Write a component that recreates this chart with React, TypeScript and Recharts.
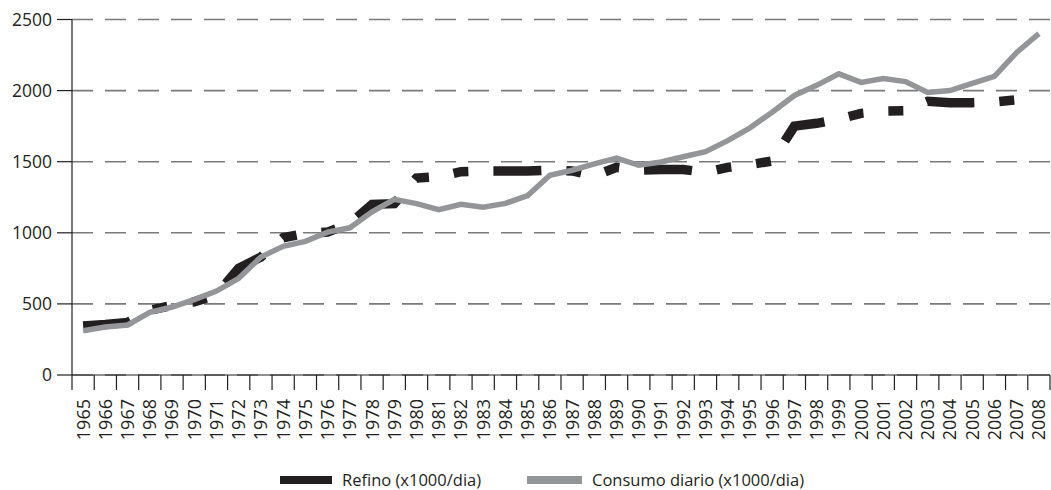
import React from "react";
import {
  CartesianGrid,
  Legend,
  Line,
  LineChart,
  XAxis,
  YAxis,
} from "recharts";

const years = [
  "1965", "1966", "1967", "1968", "1969", "1970", "1971", "1972", "1973", "1974",
  "1975", "1976", "1977", "1978", "1979", "1980", "1981", "1982", "1983", "1984",
  "1985", "1986", "1987", "1988", "1989", "1990", "1991", "1992", "1993", "1994",
  "1995", "1996", "1997", "1998", "1999", "2000", "2001", "2002", "2003", "2004",
  "2005", "2006", "2007", "2008",
];

const refino = [
  345, 355, 370, 455, 490, 515, 565, 750, 830, 965,
  995, 1005, 1065, 1200, 1205, 1385, 1395, 1430, 1435, 1435,
  1435, 1440, 1435, 1400, 1460, 1440, 1445, 1445, 1425, 1460,
  1480, 1505, 1750, 1770, 1800, 1840, 1855, 1858, 1925, 1915,
  1915, 1920, 1935, 1940,
];

const consumo = [
  311, 338, 352, 440, 478, 530, 590, 680, 830, 905,
  940, 1005, 1035, 1148, 1235, 1205, 1163, 1200, 1180, 1207,
  1262, 1405, 1440, 1485, 1525, 1475, 1498, 1535, 1570, 1648,
  1738, 1848, 1966, 2037, 2118, 2058, 2085, 2063, 1987, 2000,
  2050, 2100, 2268, 2400,
];

const yTicks = [0, 500, 1000, 1500, 2000, 2500];

const labels = { refino: "Refino (x1000/dia)", consumo: "Consumo diario (x1000/dia)" };

const BLACK = "#231f20";
const GRAY = "#939598";
const FONT = "'Open Sans', sans-serif";

const W = 1051;
const H = 490;
const PLOT_LEFT = 72;
const PLOT_RIGHT = 1050;
const STEP = (PLOT_RIGHT - PLOT_LEFT) / years.length;
const LEGEND_H = 20;

const data = years.map((year, i) => ({
  year,
  refino: refino[i],
  consumo: consumo[i],
}));

function YearTick(props: any) {
  const { x, y, payload, index } = props;
  const half = STEP / 2;
  const ty = y + 24;
  return (
    <g>
      <line x1={x - half} y1={y} x2={x - half} y2={y + 15} stroke={BLACK} strokeWidth={1.2} />
      {index === years.length - 1 && (
        <line x1={x + half} y1={y} x2={x + half} y2={y + 15} stroke={BLACK} strokeWidth={1.2} />
      )}
      <text
        x={x}
        y={ty}
        dy="0.36em"
        transform={`rotate(-90 ${x} ${ty})`}
        textAnchor="end"
        fill={BLACK}
        fontSize={18}
        fontFamily={FONT}
      >
        {payload.value}
      </text>
    </g>
  );
}

function ChartLegend() {
  const swatch = (color: string, width: number) => (
    <span style={{ display: "inline-block", flex: "none", width, height: 8, background: color, marginRight: 10 }} />
  );
  return (
    <div
      style={{
        display: "flex",
        alignItems: "center",
        height: LEGEND_H,
        lineHeight: `${LEGEND_H}px`,
        paddingLeft: 280,
        fontFamily: FONT,
        fontSize: 16.5,
        color: BLACK,
        whiteSpace: "nowrap",
      }}
    >
      {swatch(BLACK, 52)}
      <span style={{ display: "inline-block", width: 185 }}>{labels.refino}</span>
      {swatch(GRAY, 55)}
      <span>{labels.consumo}</span>
    </div>
  );
}

export default function App() {
  return (
    <div style={{ width: W, height: H, background: "#fff" }}>
      <style>{`body{margin:0}`}</style>
      <LineChart
        width={W}
        height={H}
        data={data}
        margin={{ top: 19.5, right: W - PLOT_RIGHT, bottom: 0, left: 0 }}
      >
        <CartesianGrid
          horizontal
          vertical={false}
          stroke="#7a7a7a"
          strokeWidth={1.6}
          strokeDasharray="21 12"
        />
        <XAxis
          dataKey="year"
          interval={0}
          height={115 - LEGEND_H}
          padding={{ left: STEP / 2, right: STEP / 2 }}
          tickSize={0}
          tickMargin={0}
          tickLine={false}
          axisLine={{ stroke: BLACK, strokeWidth: 1.2 }}
          tick={<YearTick />}
        />
        <YAxis
          width={PLOT_LEFT}
          domain={[0, 2500]}
          ticks={yTicks}
          interval={0}
          tickSize={15}
          tickMargin={5}
          axisLine={{ stroke: BLACK, strokeWidth: 1.2 }}
          tickLine={{ stroke: BLACK, strokeWidth: 1.2 }}
          tick={{ fill: BLACK, fontSize: 17.5, fontFamily: FONT }}
        />
        <Legend
          verticalAlign="bottom"
          align="left"
          wrapperStyle={{ left: 0, width: W }}
          content={() => <ChartLegend />}
        />
        <Line
          type="linear"
          dataKey="refino"
          name={labels.refino}
          stroke={BLACK}
          strokeWidth={9.5}
          strokeDasharray="48 25 15 25 15 25"
          dot={false}
          activeDot={false}
          isAnimationActive={false}
        />
        <Line
          type="linear"
          dataKey="consumo"
          name={labels.consumo}
          stroke={GRAY}
          strokeWidth={5.5}
          dot={false}
          activeDot={false}
          isAnimationActive={false}
        />
      </LineChart>
    </div>
  );
}
